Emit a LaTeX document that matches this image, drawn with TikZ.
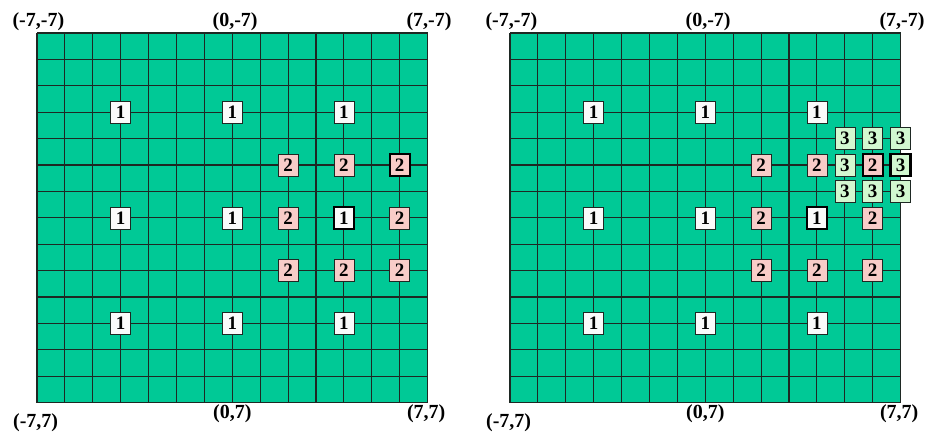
\documentclass[tikz,border=0pt]{standalone}
\usepackage{fontspec}
\setmainfont{Liberation Serif}
\definecolor{board}{RGB}{0,201,150}
\definecolor{pinkcell}{RGB}{248,204,200}
\definecolor{mintcell}{RGB}{210,248,208}
\definecolor{whitecell}{RGB}{250,250,250}
\definecolor{edge}{RGB}{30,40,35}

\begin{document}
\begin{tikzpicture}[x=1pt,y=-1pt,
  cell/.style={draw=edge,line width=0.6pt,minimum width=20pt,minimum height=22pt,inner sep=0pt,font=\fontsize{19}{19}\selectfont\bfseries},
  one/.style={cell,fill=whitecell},
  two/.style={cell,fill=pinkcell},
  three/.style={cell,fill=mintcell},
  picked/.style={draw=black,line width=2.4pt},
  corner/.style={font=\fontsize{20}{20}\selectfont\bfseries,inner sep=0pt}]

  \useasboundingbox (0,0) rectangle (928,432);
  \fill[white] (0,0) rectangle (928,432);

  % both boards: grid, corner labels, search points
  \foreach \cx/\pn in {232.3/L,705.3/R} {
    \begin{scope}[shift={(\cx pt,-217.8pt)},x=27.9pt,y=-26.4pt]
      \fill[board] (-7,-7) rectangle (7,7);
      \foreach \k in {-7,...,7} {
        \draw[edge,line width=1.1pt] (\k,-7) -- (\k,7);
        \draw[edge,line width=1.1pt] (-7,\k) -- (7,\k);
      }
      \node[corner] (\pn-tl) at (-6.95,-7.42) {(-7,-7)};
      \node[corner] (\pn-tc) at (0.1,-7.42) {(0,-7)};
      \node[corner] (\pn-tr) at (7.05,-7.42) {(7,-7)};
      \node[corner] (\pn-bl) at (-7.05,7.76) {(-7,7)};
      \node[corner] (\pn-bc) at (0,7.42) {(0,7)};
      \node[corner] (\pn-br) at (6.95,7.42) {(7,7)};
      \foreach \x/\y/\s in {-4/-4/,0/-4/,4/-4/,-4/0/,0/0/,4/0/picked,-4/4/,0/4/,4/4/}
        \node[one,\s] (\pn-a\x\y) at (\x,\y) {1};
      \foreach \x/\y/\s in {2/-2/,4/-2/,6/-2/picked,2/0/,6/0/,2/2/,4/2/,6/2/}
        \node[two,\s] (\pn-b\x\y) at (\x,\y) {2};
    \end{scope}
  }

  % third step only on the right board
  \begin{scope}[shift={(705.3pt,-217.8pt)},x=27.9pt,y=-26.4pt]
    \foreach \x/\y/\s in {5/-3/,6/-3/,7/-3/,5/-2/,7/-2/picked,5/-1/,6/-1/,7/-1/}
      \node[three,\s] (R-c\x\y) at (\x,\y) {3};
  \end{scope}
\end{tikzpicture}
\end{document}
